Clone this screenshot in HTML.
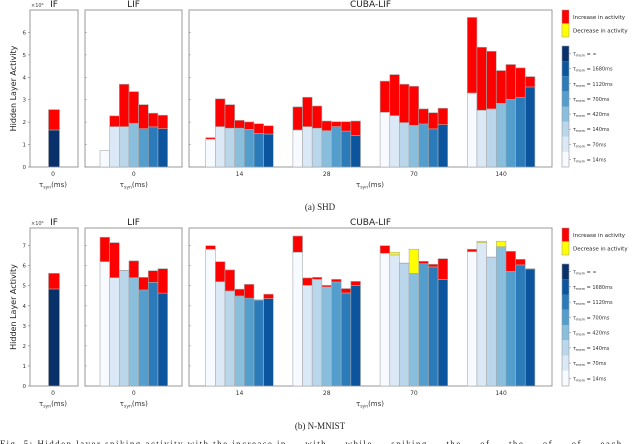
<!DOCTYPE html>
<html><head><meta charset="utf-8"><style>
html,body{margin:0;padding:0;background:#fff;width:640px;height:444px;overflow:hidden}
svg text{font-family:"DejaVu Sans","Liberation Sans",sans-serif}
</style></head><body>
<svg id="fig" width="640" height="444" viewBox="0 0 640 444" xmlns="http://www.w3.org/2000/svg"></svg>
<script>
// ---------- DATA ----------
const groupLabels = ["14", "28", "70", "140"];
const memLabels = ["14ms", "70ms", "140ms", "420ms", "700ms", "1120ms", "1680ms", "\u221e"];
const yTicksShd = [0, 1, 2, 3, 4, 5, 6];
const yTicksNm = [0, 1, 2, 3, 4, 5, 6, 7];
// SHD (x10^6)
const shdIfBase = [1.65];
const shdIfTop = [2.56];
const shdLifBase = [0.73, 1.80, 1.80, 1.95, 1.71, 1.79, 1.71];
const shdLifTop = [0.73, 2.28, 3.69, 3.36, 2.78, 2.40, 2.31];
const shdCubaBase14 = [1.24, 1.80, 1.73, 1.73, 1.68, 1.50, 1.47];
const shdCubaTop14 = [1.31, 3.04, 2.78, 2.08, 2.01, 1.93, 1.84];
const shdCubaBase28 = [1.65, 1.80, 1.73, 1.62, 1.80, 1.60, 1.40];
const shdCubaTop28 = [2.68, 3.11, 2.72, 2.05, 2.02, 2.02, 2.05];
const shdCubaBase70 = [2.44, 2.29, 1.98, 1.86, 1.92, 1.70, 1.89];
const shdCubaTop70 = [3.83, 4.12, 3.69, 3.60, 2.59, 2.42, 2.62];
const shdCubaBase140 = [3.30, 2.53, 2.59, 2.84, 3.02, 3.11, 3.57];
const shdCubaTop140 = [6.67, 5.34, 5.16, 4.30, 4.57, 4.42, 4.03];
// N-MNIST (x10^6); kind: 1 = increase (red), -1 = decrease (yellow)
const nmIfBase = [4.84];
const nmIfTop = [5.62];
const nmLifBase = [6.20, 5.40, 5.75, 5.40, 4.79, 5.17, 4.63];
const nmLifTop = [7.42, 7.15, 5.77, 6.24, 5.42, 5.75, 5.85];
const nmCubaBase14 = [6.82, 5.20, 4.74, 4.49, 4.38, 4.29, 4.36];
const nmCubaTop14 = [7.00, 6.20, 5.79, 4.83, 5.07, 4.30, 4.58];
const nmCubaBase28 = [6.67, 5.02, 5.32, 4.94, 5.19, 4.64, 5.02];
const nmCubaTop28 = [7.48, 5.39, 5.42, 5.02, 5.32, 4.86, 5.22];
const nmCubaBase70 = [6.62, 6.54, 6.12, 5.62, 6.10, 5.94, 5.32];
const nmCubaTop70 = [7.00, 6.67, 6.13, 6.82, 6.22, 6.07, 6.35];
const nmCubaKind70 = [1, -1, 1, -1, 1, 1, 1];
const nmCubaBase140 = [6.70, 7.15, 6.42, 6.95, 5.72, 6.04, 5.84];
const nmCubaTop140 = [6.82, 7.22, 6.43, 7.22, 6.72, 6.32, 5.85];
const nmCubaKind140 = [1, -1, 1, -1, 1, 1, 1];

const blues = ["#f7fbff", "#dbe9f6", "#bad6eb", "#89bedc", "#539ecd", "#2b7bba", "#0b559f", "#08306b"];
const NS = "http://www.w3.org/2000/svg";
const svg = document.getElementById("fig");
function el(tag, attrs, parent, txt) {
  const e = document.createElementNS(NS, tag);
  for (const k in attrs) e.setAttribute(k, attrs[k]);
  if (txt !== undefined) e.textContent = txt;
  (parent || svg).appendChild(e);
  return e;
}
const BW = 9.66;
const ones = [1, 1, 1, 1, 1, 1, 1];

function drawChart(prefix, top, bottom, ymax, yTicks, d) {
  const g = el("g", {});
  
  
  const ys = v => bottom - v / ymax * (bottom - top);
  const panels = [[30, 78, "IF"], [85, 182, "LIF"], [189, 552, "CUBA-LIF"]];
  panels.forEach(p => {
    const r = el("rect", {x: p[0], y: top, width: p[1] - p[0], height: bottom - top, fill: "none", stroke: "#999", "stroke-width": 1}, g);
    
    
    const t = el("text", {x: p[2] === "IF" ? 54 : (p[0] + p[1]) / 2, y: top - 3, "font-size": 9, "text-anchor": "middle", fill: "#222"}, g, p[2]);
    
    
  });
  const ex = el("text", {x: 31, y: top - 3, "font-size": 5, fill: "#444"}, g, "\u00d710\u2076");
  
  
  yTicks.forEach(v => {
    const t = el("text", {x: 26, y: ys(v) + 2, "font-size": 5.5, "text-anchor": "end", fill: "#333"}, g, String(v));
    
    
    [85, 189].forEach(px => el("line", {x1: px, x2: px + 1.5, y1: ys(v), y2: ys(v), stroke: "#777", "stroke-width": 0.6}, g));
    el("line", {x1: 28, x2: 30, y1: ys(v), y2: ys(v), stroke: "#777", "stroke-width": 0.6}, g);
  });
  const yl = el("text", {x: 0, y: 0, "font-size": 8, "text-anchor": "middle", fill: "#222", transform: `translate(16,${(top + bottom) / 2}) rotate(-90)`}, g, "Hidden Layer Activity");
  
  

  function bars(cx, base, topv, kind, colorIdx, name, bw) {
    base.forEach((b, i) => {
      const x = cx + (i - base.length / 2) * bw;
      const ci = colorIdx !== null ? colorIdx : i;
      const r = el("rect", {x: x, y: ys(b), width: bw, height: bottom - ys(b), fill: blues[ci], stroke: "#aaa", "stroke-width": 0.6}, g);
      
      
      const tv = topv[i];
      if (tv > b + 0.005) {
        const c = kind[i] < 0 ? "#ffff00" : "#ff0000";
        const s = el("rect", {x: x, y: ys(tv), width: bw, height: ys(b) - ys(tv), fill: c, stroke: "#aaa", "stroke-width": 0.6}, g);
        
        
      }
    });
  }
  bars(54, d.ifB, d.ifT, [1], 7, prefix + '-if', 11);
  bars(133.8, d.lifB, d.lifT, ones, null, prefix + '-lif', BW);
  const gc = k => 239.5 + k * 87.2;
  d.cuba.forEach((c, k) => bars(gc(k), c[0], c[1], c[2], null, prefix + '-cuba-' + groupLabels[k], BW));

  const tl = [[53, "0"], [133.8, "0"]];
  groupLabels.forEach((l, k) => tl.push([gc(k), l]));
  tl.forEach(t => {
    const e = el("text", {x: t[0], y: bottom + 9, "font-size": 6, "text-anchor": "middle", fill: "#333"}, g, t[1]);
    
    
  });
  [[53], [133.8], [370]].forEach(p => {
    const e = el("text", {x: p[0], y: bottom + 20, "font-size": 7, "text-anchor": "middle", fill: "#333"}, g);
    
    
    el("tspan", {}, e, "\u03c4");
    el("tspan", {"font-size": 4.5, dy: 1.5}, e, "syn");
    el("tspan", {dy: -1.5}, e, "(ms)");
  });

  const lt = top, lm = top + 13.5, lb = top + 27;
  const r1 = el("rect", {x: 562, y: lt, width: 7, height: lm - lt, fill: "#ff0000", stroke: "#999", "stroke-width": 0.5}, g);
  
  
  const r2 = el("rect", {x: 562, y: lm, width: 7, height: lb - lm, fill: "#ffff00", stroke: "#999", "stroke-width": 0.5}, g);
  
  
  el("text", {x: 573, y: lt + 9, "font-size": 5.5, fill: "#222"}, g, "Increase in activity");
  el("text", {x: 573, y: lm + 9, "font-size": 5.5, fill: "#222"}, g, "Decrease in activity");
  const cbT = top + 36, cbH = (bottom - cbT) / 8;
  for (let i = 0; i < 8; i++) {
    const y = bottom - (i + 1) * cbH;
    const r = el("rect", {x: 562, y: y, width: 7, height: cbH, fill: blues[i]}, g);
    
    
    el("line", {x1: 569, x2: 571, y1: y + cbH / 2, y2: y + cbH / 2, stroke: "#777", "stroke-width": 0.5}, g);
    const t = el("text", {x: 573, y: y + cbH / 2 + 2, "font-size": 5, fill: "#333"}, g);
    el("tspan", {}, t, "\u03c4");
    el("tspan", {"font-size": 3.5, dy: 1}, t, "mem");
    el("tspan", {dy: -1}, t, " = " + memLabels[i]);
  }
  el("rect", {x: 562, y: cbT, width: 7, height: bottom - cbT, fill: "none", stroke: "#999", "stroke-width": 0.6}, g);
}

drawChart("shd", 10, 167, 7.0, yTicksShd, {
  ifB: shdIfBase, ifT: shdIfTop, lifB: shdLifBase, lifT: shdLifTop,
  cuba: [[shdCubaBase14, shdCubaTop14, ones], [shdCubaBase28, shdCubaTop28, ones],
         [shdCubaBase70, shdCubaTop70, ones], [shdCubaBase140, shdCubaTop140, ones]]
});
drawChart("nmnist", 228, 386, 7.88, yTicksNm, {
  ifB: nmIfBase, ifT: nmIfTop, lifB: nmLifBase, lifT: nmLifTop,
  cuba: [[nmCubaBase14, nmCubaTop14, ones], [nmCubaBase28, nmCubaTop28, ones],
         [nmCubaBase70, nmCubaTop70, nmCubaKind70], [nmCubaBase140, nmCubaTop140, nmCubaKind140]]
});

const c1 = el("text", {x: 320, y: 210, "font-size": 9, "text-anchor": "middle", fill: "#222", style: "font-family:'Liberation Serif',serif"}, svg, "(a) SHD");


const c2 = el("text", {x: 320, y: 429, "font-size": 9, "text-anchor": "middle", fill: "#222", style: "font-family:'Liberation Serif',serif"}, svg, "(b) N-MNIST");


const c3 = el("text", {x: 0, y: 447, "font-size": 9, fill: "#222", textLength: 636, lengthAdjust: "spacing", style: "font-family:'Liberation Serif',serif"}, svg, "Fig. 5: Hidden layer spiking activity with the increase in ... with ... while ... spiking ... the ... of ... the ... of ... of ... each ...");


</script>
</body></html>
